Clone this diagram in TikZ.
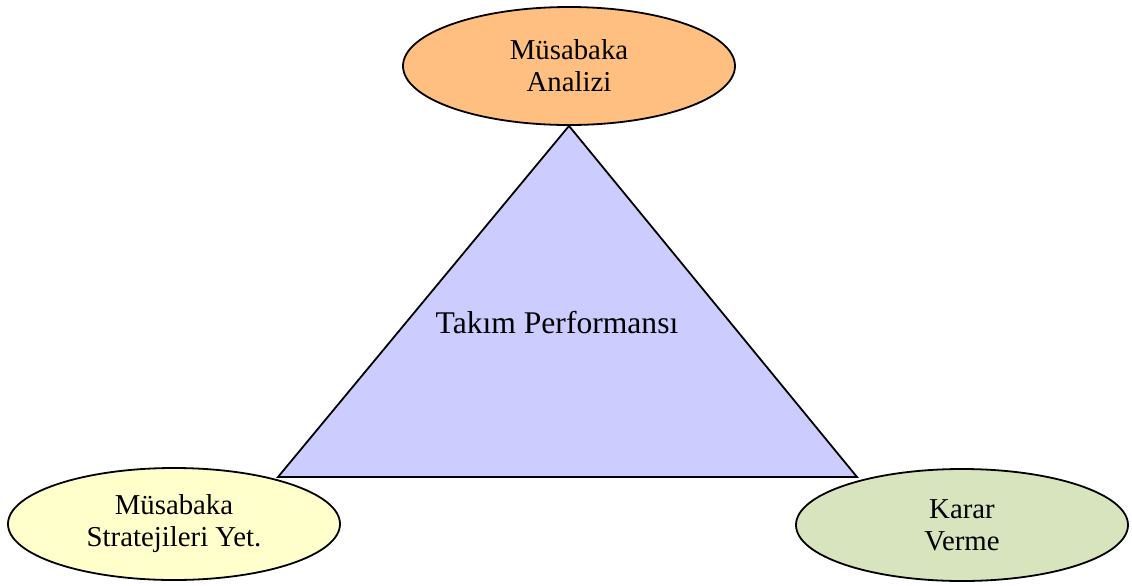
\documentclass[tikz,border=0pt]{standalone}
\usepackage{fontspec}
\setmainfont{Liberation Serif}
\usetikzlibrary{shapes.geometric,backgrounds}
\definecolor{analizcol}{RGB}{255,191,128}
\definecolor{stratcol}{RGB}{255,255,204}
\definecolor{kararcol}{RGB}{215,228,189}
\definecolor{takimcol}{RGB}{204,204,255}
\tikzset{
  oval/.style={ellipse,draw=black,line width=0.9pt,inner sep=0pt,align=center,
    minimum width=166pt,minimum height=56pt,font=\fontsize{14.4}{16}\selectfont}
}
\begin{document}
\begin{tikzpicture}[x=0.5pt,y=-0.5pt]
      \useasboundingbox (0,0) rectangle (1132,585);
      \draw
        (569,66) node[oval,fill=analizcol,minimum height=59pt] (analiz){Müsabaka\\Analizi}
        (174,524) node[oval,fill=stratcol] (strateji){Müsabaka\\Stratejileri Yet.}
        (962,525) node[oval,fill=kararcol] (karar){Karar\\Verme};
      \node[font=\fontsize{15.8}{18}\selectfont] (takim) at (557,323) {Takım Performansı};
      \coordinate (solkose) at (278,477);
      \coordinate (sagkose) at (857,477);
      \begin{scope}[on background layer]
        \draw[fill=takimcol,line width=0.9pt,line join=miter]
          (analiz.south) -- (sagkose) -- (solkose) -- cycle;
      \end{scope}
    \end{tikzpicture}
\end{document}
